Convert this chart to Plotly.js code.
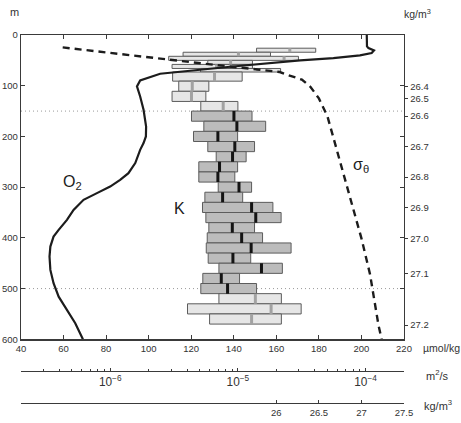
<!DOCTYPE html>
<html>
<head>
<meta charset="utf-8">
<script src="https://cdn.plot.ly/plotly-3.0.1.min.js"></script>
<style>
  html, body { margin: 0; padding: 0; background: #fff; }
  #chart { width: 461px; height: 423px; }
</style>
</head>
<body>
<div id="chart"></div>
<script>
// Dissolved oxygen profile: depth (m) and O2 (µmol/kg)
const o2Depth = [0, 19, 22.5, 25.7, 30.4, 35.5, 40.3, 45.4, 50.1, 62.6, 76.4, 89.6, 101.4, 121.2, 147.4,
  180.4, 200.1, 213.1, 226.4, 252.6, 272.4, 285.6, 298.8, 311.8, 325, 344.8, 364.5, 384.2, 397.5,
  417.2, 436.9, 463.2, 489.4, 515.9, 542.1, 568.4, 600];
const o2Value = [202.5, 202.5, 202.6, 203.3, 205.9, 204.8, 199.3, 186.8, 171.2, 138.3, 105.4, 96.0, 94.5, 96.0, 97.6,
  98.8, 98.7, 97.6, 96.0, 93.7, 90.5, 86.6, 81.9, 75.7, 69.4, 64.7, 61.6, 57.7, 55.3,
  53.8, 53.4, 53.8, 55.3, 57.7, 61.6, 65.5, 69.1];

// Potential density anomaly profile: depth (m) and sigma-theta (kg/m3)
const sigmaDepth = [24.5, 47, 58.6, 68.5, 73, 78, 88, 102, 125, 160, 220, 280, 341, 401, 471, 572, 602];
const sigmaValue = [23.49, 24.63, 25.26, 25.81, 26.04, 26.12, 26.30, 26.40, 26.50, 26.60, 26.70, 26.80,
  26.90, 27.00, 27.10, 27.20, 27.24];

// Isopycnals marked on the right-hand axis (kg/m3)
const isopycnals = [26.4, 26.5, 26.6, 26.7, 26.8, 26.9, 27.0, 27.1, 27.2];

// Diffusivity K (m2/s) per depth bin: lower quartile, median, upper quartile
const binTop    = [26, 34, 42, 50, 58, 66, 73, 91, 111, 131, 150, 170, 190, 210, 230, 250, 270, 290, 310,
  330, 350, 370, 390, 410, 430, 450, 470, 490, 510, 530, 550];
const binBottom = [34, 42, 50, 58, 66, 73, 91, 111, 131, 150, 170, 190, 210, 230, 250, 270, 290, 310, 330,
  350, 370, 390, 410, 430, 450, 470, 490, 510, 530, 550, 570];
const kLow = [1.40e-5, 3.72e-6, 2.87e-6, 5.81e-6, 3.05e-6, 5.09e-6, 3.08e-6, 3.44e-6, 3.05e-6, 5.12e-6,
  4.33e-6, 5.41e-6, 4.49e-6, 5.81e-6, 6.76e-6, 4.94e-6, 4.94e-6, 7.01e-6, 5.51e-6, 5.28e-6,
  5.61e-6, 5.92e-6, 5.75e-6, 5.65e-6, 5.85e-6, 7.10e-6, 5.31e-6, 5.12e-6, 7.10e-6, 4.03e-6, 6.00e-6];
const kMedian = [2.55e-5, 1.01e-5, 2.30e-5, 8.77e-6, 6.80e-6, 1.43e-5, 6.56e-6, 4.39e-6, 4.33e-6, 7.67e-6,
  9.31e-6, 9.82e-6, 6.97e-6, 9.46e-6, 9.08e-6, 7.18e-6, 6.97e-6, 1.02e-5, 7.59e-6, 1.28e-5,
  1.38e-5, 9.04e-6, 1.07e-5, 1.27e-5, 9.14e-6, 1.53e-5, 7.41e-6, 8.30e-6, 1.37e-5, 1.82e-5, 1.28e-5];
const kHigh = [4.07e-5, 1.80e-5, 2.98e-5, 1.30e-5, 1.30e-5, 2.16e-5, 1.08e-5, 5.92e-6, 5.61e-6, 1.00e-5,
  1.29e-5, 1.65e-5, 9.95e-6, 1.35e-5, 1.16e-5, 9.95e-6, 9.46e-6, 1.28e-5, 1.09e-5, 1.88e-5,
  2.18e-5, 1.35e-5, 1.56e-5, 2.61e-5, 1.26e-5, 2.23e-5, 1.03e-5, 1.40e-5, 2.19e-5, 3.13e-5, 2.19e-5];

// Depths (m) of the dotted lines bounding the core layer
const coreDepths = [150, 500];

// Tick values
const o2Ticks = [40, 60, 80, 100, 120, 140, 160, 180, 200, 220];
const depthTicks = [0, 100, 200, 300, 400, 500, 600];
const densityTicks = [23, 26, 26.5, 27, 27.5];
const densityTickText = ['', '26', '26.5', '27', '27.5'];
const kRange = [2e-7, 2e-4];

// ---- derived geometry ----
const binCenter = binTop.map((t, i) => (t + binBottom[i]) / 2);
const binHeight = binTop.map((t, i) => binBottom[i] - t);
const binLength = kLow.map((lo, i) => kHigh[i] - lo);
const inCore = binCenter.map(c => c >= coreDepths[0] && c <= coreDepths[1]);

// depth at which the density profile reaches a given isopycnal
function isopycnalDepth(level) {
  for (let i = 0; i < sigmaValue.length - 1; i++) {
    const a = sigmaValue[i], b = sigmaValue[i + 1];
    if (level >= a && level <= b) {
      const f = (level - a) / (b - a);
      return sigmaDepth[i] + f * (sigmaDepth[i + 1] - sigmaDepth[i]);
    }
  }
  return null;
}
const isoDepths = isopycnals.map(isopycnalDepth);

function medianSegments(flag) {
  const xs = [], ys = [];
  kMedian.forEach((m, i) => {
    if (inCore[i] === flag) {
      xs.push(m, m, null);
      ys.push(binTop[i], binBottom[i], null);
    }
  });
  return { xs, ys };
}
const darkMed = medianSegments(true);
const lightMed = medianSegments(false);

const ink = '#1c1c1c';
const axisCol = '#3a3a3a';
const FONT = '"Liberation Sans", Arial, Helvetica, sans-serif';

const traces = [
  { // dotted reference lines
    type: 'scatter', mode: 'lines', xaxis: 'x', yaxis: 'y',
    x: [o2Ticks[0], o2Ticks[o2Ticks.length - 1], null, o2Ticks[0], o2Ticks[o2Ticks.length - 1]],
    y: [coreDepths[0], coreDepths[0], null, coreDepths[1], coreDepths[1]],
    line: { color: '#9a9a9a', width: 1, dash: '1px,3px' }, hoverinfo: 'skip'
  },
  { // interquartile boxes of K
    type: 'bar', orientation: 'h', xaxis: 'x2', yaxis: 'y',
    y: binCenter, x: binLength, base: kLow, width: binHeight,
    marker: {
      color: inCore.map(c => c ? '#bcbcbc' : '#e6e6e6'),
      line: { color: '#5c5c5c', width: 1 }
    },
    hoverinfo: 'skip'
  },
  { // medians, core layer
    type: 'scatter', mode: 'lines', xaxis: 'x2', yaxis: 'y',
    x: darkMed.xs, y: darkMed.ys, line: { color: '#141414', width: 3 }, hoverinfo: 'skip'
  },
  { // medians, outside the core layer
    type: 'scatter', mode: 'lines', xaxis: 'x2', yaxis: 'y',
    x: lightMed.xs, y: lightMed.ys, line: { color: '#a2a2a2', width: 3 }, hoverinfo: 'skip'
  },
  { // sigma-theta profile
    type: 'scatter', mode: 'lines', xaxis: 'x3', yaxis: 'y2',
    x: sigmaValue, y: sigmaDepth,
    line: { color: ink, width: 2.4, dash: '7px,5px' }, hoverinfo: 'skip'
  },
  { // oxygen profile
    type: 'scatter', mode: 'lines', xaxis: 'x4', yaxis: 'y',
    x: o2Value, y: o2Depth,
    line: { color: ink, width: 2.2 }, hoverinfo: 'skip'
  }
];

const W = 461, H = 423;
const M = { l: 21, r: 57, t: 35, b: 20 };
const pw = W - M.l - M.r, ph = H - M.t - M.b;
const px2x = px => (px - M.l) / pw;
const px2y = py => (H - M.b - py) / ph;

const tickFont = { family: FONT, size: 9.5, color: '#333' };
const baseAxis = {
  showgrid: false, zeroline: false, showline: true, linecolor: axisCol, linewidth: 1.3,
  tickcolor: axisCol, tickwidth: 1, tickfont: tickFont
};

const layout = {
  width: W, height: H, margin: M,
  paper_bgcolor: '#fff', plot_bgcolor: 'rgba(0,0,0,0)',
  showlegend: false, barmode: 'overlay',
  font: { family: FONT, size: 10, color: '#333' },
  xaxis: Object.assign({}, baseAxis, {
    domain: [0, 1], anchor: 'y', range: [40, 220], tickvals: o2Ticks,
    ticks: 'inside', ticklen: 4, mirror: 'ticks'
  }),
  yaxis: Object.assign({}, baseAxis, {
    domain: [px2y(339.3), 1], anchor: 'x', range: [600, 0], tickvals: depthTicks,
    ticks: 'inside', ticklen: 4, mirror: 'ticks'
  }),
  yaxis2: Object.assign({}, baseAxis, {
    overlaying: 'y', side: 'right', anchor: 'x', range: [600, 0],
    tickvals: isoDepths, ticktext: isopycnals.map(v => v.toFixed(1)),
    ticks: 'outside', ticklen: 3
  }),
  xaxis2: Object.assign({}, baseAxis, {
    overlaying: 'x', type: 'log', anchor: 'free', position: px2y(371), side: 'bottom',
    range: [Math.log10(kRange[0]), Math.log10(kRange[1])],
    dtick: 1, exponentformat: 'power', ticks: 'inside', ticklen: 3,
    minor: { ticks: 'inside', ticklen: 2, dtick: 'D1', tickcolor: axisCol, tickwidth: 1 }
  }),
  xaxis3: Object.assign({}, baseAxis, {
    overlaying: 'x', anchor: 'free', position: 0, side: 'bottom',
    range: [23, 27.5], tickvals: densityTicks, ticktext: densityTickText,
    ticks: 'inside', ticklen: 3
  }),
  xaxis4: { overlaying: 'x', range: [40, 220], visible: false },
  annotations: [
    { xref: 'x', yref: 'y', x: 64, y: 291, text: 'O<sub>2</sub>', showarrow: false,
      font: { family: FONT, size: 16, color: ink } },
    { xref: 'x', yref: 'y', x: 114.6, y: 342, text: 'K', showarrow: false,
      font: { family: FONT, size: 16, color: ink } },
    { xref: 'x', yref: 'y', x: 199.8, y: 258, text: 'σ<sub>θ</sub>', showarrow: false,
      font: { family: FONT, size: 16, color: ink } },
    { xref: 'paper', yref: 'paper', x: px2x(14.5), y: px2y(12.5), text: 'm', showarrow: false,
      xanchor: 'center', yanchor: 'middle', font: { family: FONT, size: 11, color: '#333' } },
    { xref: 'paper', yref: 'paper', x: px2x(417.5), y: px2y(14), text: 'kg/m<sup>3</sup>', showarrow: false,
      xanchor: 'center', yanchor: 'middle', font: { family: FONT, size: 10.5, color: '#333' } },
    { xref: 'paper', yref: 'paper', x: px2x(421), y: px2y(347.5), text: 'µmol/kg', showarrow: false,
      xanchor: 'left', yanchor: 'middle', font: { family: FONT, size: 10.5, color: '#333' } },
    { xref: 'paper', yref: 'paper', x: px2x(424), y: px2y(375), text: 'm<sup>2</sup>/s', showarrow: false,
      xanchor: 'left', yanchor: 'middle', font: { family: FONT, size: 11, color: '#333' } },
    { xref: 'paper', yref: 'paper', x: px2x(422), y: px2y(405), text: 'kg/m<sup>3</sup>', showarrow: false,
      xanchor: 'left', yanchor: 'middle', font: { family: FONT, size: 11, color: '#333' } }
  ]
};

Plotly.newPlot('chart', traces, layout, { staticPlot: true, displayModeBar: false });
</script>
</body>
</html>
